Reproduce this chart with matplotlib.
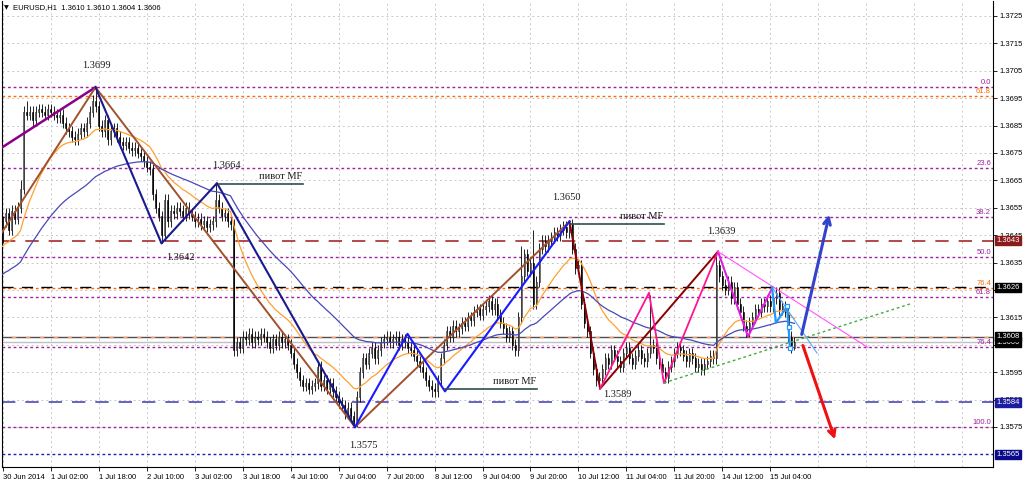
import numpy as np
import matplotlib
matplotlib.use("Agg")
import matplotlib.pyplot as plt
from matplotlib import transforms

# EURUSD H1 closes, in pips above 1.3500 (bars from 30 Jun 10:00)
closes = [
    150, 153, 147, 154, 151, 155, 162,
    190,
    189, 190, 187, 190, 191, 190, 189, 191, 190, 189, 188, 189,
    186, 184, 183, 181, 180, 182, 184, 183,
    186, 190, 194, 192,
    185, 183, 187, 180, 183, 184,
    181, 179, 178, 179, 177, 176, 177, 175,
    174, 172, 170, 169,
    160, 155, 152, 145,
    158, 150, 154, 153, 155, 154, 152, 155, 153,
    152, 150, 151, 149, 150, 148, 149, 150,
    158,
    155, 152, 153, 150, 149,
    103,
    106, 104, 108, 107, 109, 106, 108, 107, 109, 108, 106, 104, 107, 105, 108, 106, 107, 105,
    102, 98, 95, 92, 90, 91,
    89, 90, 91, 97, 90, 92, 89,
    91, 88, 86, 84, 83, 80, 82, 79, 77,
    86, 95, 100, 98, 102, 104, 100, 103,
    106, 107, 108, 106, 107, 108, 105, 107, 106,
    104, 103, 101, 99, 97, 95, 92, 90,
    89, 88, 92,
    100, 105, 110, 108, 112,
    110, 111, 113, 112, 115, 114, 117, 118, 116, 118,
    119, 121, 118, 120, 116, 113,
    111, 108, 110, 105, 103,
    115, 130, 138, 132, 135,
    120, 128, 140, 143, 141,
    143, 144, 146, 145, 147, 148, 146, 149,
    140, 133, 134, 120, 113,
    110, 102, 96, 92, 93,
    96, 100, 98, 103, 101, 99, 97, 102, 104, 100, 98, 101, 103, 100, 99, 102,
    105,
    104, 100, 98, 95, 93,
    97, 99, 102, 104, 103, 101, 99, 102, 100, 97, 98, 96, 98, 99, 101, 100,
    134,
    130, 127, 125, 128, 122, 126, 120, 117,
    112, 110, 113,
    115, 118, 117, 120, 119, 121, 119, 122,
    124,
    118, 119, 117,
    108, 104, 106,
]
# notable wick extremes (bar index -> pips)
high_pts = {6: 165, 7: 192, 8: 194, 31: 199, 71: 164, 173: 141, 177: 147,
            189: 150, 216: 123, 238: 139, 258: 126}
low_pts = {0: 142, 53: 142, 77: 101, 117: 75, 143: 86, 199: 89, 221: 91,
           248: 108, 264: 103}

time_labels = ["30 Jun 2014", "1 Jul 02:00", "1 Jul 18:00", "2 Jul 10:00",
               "3 Jul 02:00", "3 Jul 18:00", "4 Jul 10:00", "7 Jul 04:00",
               "7 Jul 20:00", "8 Jul 12:00", "9 Jul 04:00", "9 Jul 20:00",
               "10 Jul 12:00", "11 Jul 04:00", "11 Jul 20:00", "14 Jul 12:00",
               "15 Jul 04:00"]
price_ticks = [1.3725, 1.3715, 1.3705, 1.3695, 1.3685, 1.3675, 1.3665, 1.3655,
               1.3645, 1.3635, 1.3625, 1.3615, 1.3605, 1.3595, 1.3585, 1.3575]
hidden_ticks = [1.3625, 1.3605]  # covered by the price boxes

fib_purple = [("0.0", 1.3699), ("23.6", 1.36697), ("38.2", 1.36516),
              ("50.0", 1.3637), ("61.8", 1.36224), ("76.4", 1.36043),
              ("100.0", 1.3575)]
fib_orange = [("61.8", 1.36959), ("76.4", 1.36257)]

# zigzags (bar, price)
purple_line = ([-0.2, 31], [1.3677, 1.3699])
brown_zz = ([-0.2, 31, 117.5, 189], [1.3646, 1.3699, 1.3575, 1.3650])
maroon_zz = ([189, 199.2, 238.5], [1.3650, 1.3589, 1.3639])
navy_zz = ([31, 53, 71.5, 117.5], [1.3699, 1.3642, 1.3664, 1.3575])
blue_zz = ([117.5, 135, 147.5, 189], [1.3575, 1.3609, 1.3588, 1.3650])
pink_zz = ([199.2, 215.5, 220.5, 238.5], [1.3589, 1.3624, 1.3591, 1.3639])
magenta_zz = ([238.5, 248.5, 256.7], [1.3639, 1.3608, 1.3626])
violet_line = ([238.5, 288.5], [1.3639, 1.3604])
sky_zz = ([256.5, 257.8, 261.5, 262.5], [1.3626, 1.3613, 1.3619, 1.3604])
sky_marks = ([261.5, 262.2, 262.5], [1.3619, 1.36115, 1.3604])
sky_line = ([256.5, 271.5], [1.3626, 1.3602])
green_line = ([220.5, 302.5], [1.35911, 1.36199])
pivots = [(72.2, 100.2, 1.36636), (147.5, 178.2, 1.35888), (189.2, 220.5, 1.3649)]
peak_labels = [("1.3699", 31.2, 1.37068), ("1.3664", 74.5, 1.36703),
               ("1.3642", 59.2, 1.36370), ("1.3575", 120.2, 1.35681),
               ("1.3650", 187.8, 1.36589), ("1.3639", 239.5, 1.36465),
               ("1.3589", 204.8, 1.35867)]

c = 1.35 + np.array(closes) / 10000.0
n = len(c)
idx = np.arange(n)
o = np.concatenate([[c[0]], c[:-1]])
hi = np.maximum(o, c) + 0.0002
lo = np.minimum(o, c) - 0.0002
for k, v in high_pts.items():
    hi[k] = 1.35 + v / 10000.0
for k, v in low_pts.items():
    lo[k] = 1.35 + v / 10000.0


def ema(vals, period, seed):
    a = 2.0 / (period + 1)
    out = []
    prev = seed
    for v in vals:
        prev = prev + a * (v - prev)
        out.append(prev)
    return np.array(out)


fig = plt.figure(figsize=(10.24, 4.82), dpi=100)
ax = fig.add_axes([2 / 1024, 15 / 482, 991 / 1024, 466 / 482])
ax.set_xlim(-0.17, 330.17)
ax.set_ylim(1.356040, 1.373047)

# grid
for i in range(0, 331, 16):
    ax.axvline(i, color="#c8c8c8", lw=0.7, ls=(0, (2, 3)), zorder=0)
for p in price_ticks:
    ax.axhline(p, color="#c8c8c8", lw=0.7, ls=(0, (2, 3)), zorder=0)

# level lines
for lab, p in fib_purple:
    ax.axhline(p, color="#a020a0", lw=1.0, ls=(0, (2, 2)), zorder=1)
    ax.text(329.5, p + 0.00003, lab, color="#a020a0", fontsize=5.5,
            ha="right", va="bottom", family="Liberation Sans")
for lab, p in fib_orange:
    ax.axhline(p, color="#ff6a00", lw=1.0, ls=(0, (2, 2)), zorder=1)
    ax.text(329.5, p + 0.00003, lab, color="#ff6a00", fontsize=5.5,
            ha="right", va="bottom", family="Liberation Sans")
ax.axhline(1.3643, color="#a52a2a", lw=1.2, ls=(0, (8, 6)), zorder=1)
ax.axhline(1.3626, color="#000000", lw=1.0, ls=(0, (8, 6)), zorder=1)
ax.axhline(1.3584, color="#4a4ab8", lw=1.2, ls=(0, (8, 6)), zorder=1)
ax.axhline(1.3565, color="#1a1ac0", lw=1.0, ls=(0, (2, 2)), zorder=1)
ax.axhline(1.3608, color="#505050", lw=1.0, zorder=1)
ax.axhline(1.3608, color="#ff9966", lw=1.0, ls=(3, (3, 7)), zorder=1)
ax.axhline(1.3606, color="#c0c0c0", lw=1.0, zorder=1)

# candles
ax.vlines(idx, lo, hi, color="black", lw=0.6, zorder=2)
up = c >= o
body = np.maximum(np.abs(c - o), 0.00002)
bottom = np.minimum(o, c)
ax.bar(idx[up], body[up], bottom=bottom[up], width=0.65, color="white",
       edgecolor="black", lw=0.4, zorder=3)
ax.bar(idx[~up], body[~up], bottom=bottom[~up], width=0.65, color="black",
       edgecolor="black", lw=0.4, zorder=3)

# moving averages
ax.plot(idx, ema(c, 21, 1.3640), color="#ffa030", lw=0.9, zorder=4)
ax.plot(idx, ema(c, 55, 1.3630), color="#4848b8", lw=0.9, zorder=4)

# zigzags and trend lines
ax.plot(*purple_line, color="#8b008b", lw=1.8, zorder=5)
ax.plot(*brown_zz, color="#a0522d", lw=1.4, zorder=5)
ax.plot(*maroon_zz, color="#8b0000", lw=1.4, zorder=5)
ax.plot(*navy_zz, color="#1a1a90", lw=1.5, zorder=5)
ax.plot(*blue_zz, color="#1a1aff", lw=1.5, zorder=5)
ax.plot(*pink_zz, color="#ff1493", lw=1.3, zorder=5)
ax.plot(*magenta_zz, color="#e020e0", lw=1.5, zorder=5)
ax.plot(*violet_line, color="#ff55ff", lw=0.8, zorder=5)
ax.plot(*sky_line, color="#55aaff", lw=0.8, zorder=5)
ax.plot(*sky_zz, color="#2299ff", lw=1.6, zorder=5)
ax.plot(*sky_marks, ls="none", marker="s", ms=3.5, mfc="white",
        mec="#2299ff", mew=0.9, zorder=6)
ax.plot(*green_line, color="#44aa44", lw=1.0, ls=(0, (2, 2)), zorder=5)

for x0, x1, p in pivots:
    ax.plot([x0, x1], [p, p], color="#2f4f4f", lw=1.2, zorder=5)
    ax.text(x1 - 0.3, p + 0.00012, "пивот MF", fontsize=7.5, ha="right",
            va="bottom", family="Liberation Serif", color="#1a1a1a")

for lab, x, p in peak_labels:
    ax.text(x, p, lab, fontsize=7.5, ha="center", va="center",
            family="Liberation Serif", color="#1a1a1a")

# forecast arrows
ax.annotate("", xy=(275.8, 1.36535), xytext=(266.2, 1.36078),
            arrowprops=dict(arrowstyle="->", color="#3344cc", lw=2.2,
                            mutation_scale=12), zorder=7)
ax.annotate("", xy=(277.8, 1.35695), xytext=(266.5, 1.36057),
            arrowprops=dict(arrowstyle="->", color="#ee1111", lw=2.2,
                            mutation_scale=12), zorder=7)

# axes styling
ax.set_xticks(range(0, 257, 16))
ax.set_xticklabels(time_labels, fontsize=5.5, family="Liberation Sans", ha="left")
ax.yaxis.tick_right()
ax.set_yticks(price_ticks)
ax.set_yticklabels(["" if p in hidden_ticks else f"{p:.4f}" for p in price_ticks],
                   fontsize=5.5, family="Liberation Sans")
ax.tick_params(axis="x", length=3, pad=2, width=0.6)
ax.tick_params(axis="y", length=3, pad=1.5, width=0.6)
for s in ax.spines.values():
    s.set_linewidth(0.8)
ax.spines["top"].set_visible(False)

# price boxes on the right scale
tr = transforms.blended_transform_factory(ax.transAxes, ax.transData)
boxes = [("1.3643", 1.3643, "#8b1a1a"), ("1.3626", 1.3626, "#000000"),
         ("1.3606", 1.3606, "#000000"), ("1.3608", 1.3608, "#000000"),
         ("1.3584", 1.3584, "#1c1ca0"), ("1.3565", 1.3565, "#0a0a8a")]
for lab, p, col in boxes:
    ax.text(1.0035, p, lab, transform=tr, fontsize=5.5, color="white",
            ha="left", va="center", family="Liberation Sans", clip_on=False,
            bbox=dict(boxstyle="square,pad=0.15", fc=col, ec=col), zorder=8)

fig.text(4 / 1024, 1 - 8 / 482, "▼", fontsize=4.5, va="center", ha="left")
fig.text(13 / 1024, 1 - 8 / 482, "EURUSD,H1  1.3610 1.3610 1.3604 1.3606",
         fontsize=5.5, va="center", ha="left", family="Liberation Sans")

fig.savefig("out.png", dpi=100)
